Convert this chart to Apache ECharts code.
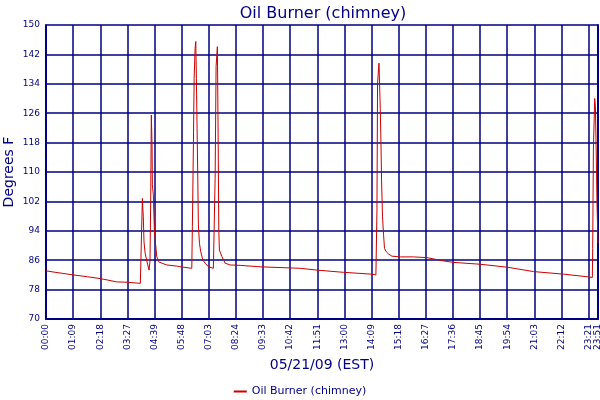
<!DOCTYPE html>
<html>
<head>
<meta charset="utf-8">
<script src="https://cdn.jsdelivr.net/npm/echarts/dist/echarts.min.js"></script>
<style>
html,body{margin:0;padding:0;background:#fff;}
#chart{width:600px;height:400px;}
</style>
</head>
<body>
<div id="chart"></div>
<script>
// Tick labels along the time axis (one every 23 samples), plus the final sample time
const timeLabels = ['00:00','01:09','02:18','03:27','04:39','05:48','07:03','08:24','09:33','10:42','11:51','13:00','14:09','15:18','16:27','17:36','18:45','19:54','21:03','22:12','23:21'];
const lastLabel = '23:51';
const lastSample = 468;
const yTickLabels = [70,78,86,94,102,110,118,126,134,142,150];

// Sample index (x) and temperature in °F (y)
const sampleIdx = [
  0, 6, 23, 35, 46, 60, 69, 80, 81.4,
  81.7, 82.5, 83.1, 84.0, 85.7, 87.4, 88.2, 88.8, 89.3, 89.9, 90.2, 91.0, 91.9, 93.1, 93.9, 95.3, 98.2, 102.4, 110.9, 116.2, 123.6,
  124.1, 125.0, 125.6, 126.4, 127.0, 127.5, 128.1, 128.7, 129.2, 130.1, 131.2, 132.9, 134.9, 137.7, 141.9, 143.1,
  143.4, 144.2, 145.3, 146.0, 146.5, 147.0, 149.1, 151.9, 156.1, 164.6, 181.6, 215.5, 229.7, 252.2, 276.3, 279.7,
  280.6, 281.1, 282.3, 282.8, 283.4, 284.0, 284.5, 285.3, 286.2, 287.0, 288.5, 290.4, 293.3, 300.4, 311.6, 323.0, 337.1, 345.6, 368.2, 390.9, 413.4, 438.9, 458.7, 463.2,
  463.5, 464.1, 465.2, 465.8, 466.3, 467.2, 468
];
const tempF = [
  83.1, 82.8, 82.0, 81.5, 81.0, 80.1, 80.0, 79.7, 79.5,
  102.8, 97.8, 91.0, 88.0, 85.5, 83.3, 86.0, 103.7, 125.5, 117.3, 106.5, 103.7, 94.0, 89.7, 87.0, 85.6, 85.2, 84.7, 84.4, 84.1, 83.8,
  95.1, 117.8, 135.5, 143.6, 145.5, 135.5, 121.9, 107.8, 95.6, 90.6, 88.3, 86.1, 85.2, 84.2, 83.8, 83.6,
  108.3, 138.7, 144.1, 117.3, 94.2, 88.8, 87.0, 85.2, 84.7, 84.6, 84.2, 83.8, 83.3, 82.7, 82.2, 82.0,
  99.7, 134.1, 139.6, 134.1, 127.3, 117.8, 107.8, 97.8, 92.9, 89.2, 88.3, 87.7, 87.1, 86.9, 86.9, 86.7, 85.8, 85.4, 84.9, 84.1, 82.9, 82.2, 81.5, 81.3,
  89.2, 116.0, 130.0, 127.8, 119.0, 100.5, 90.6
];

const NAVY = '#000080';
const FONT = 'DejaVu Sans';
const seriesData = sampleIdx.map((x, i) => [x, tempF[i]]);

const chart = echarts.init(document.getElementById('chart'), null, {renderer: 'canvas'});
chart.setOption({
  animation: false,
  backgroundColor: '#ffffff',
  title: {
    text: 'Oil Burner (chimney)',
    left: 318, top: 1,
    textAlign: 'center',
    textStyle: {color: NAVY, fontFamily: FONT, fontSize: 16, fontWeight: 'normal'}
  },
  legend: {
    top: 381, left: 'center',
    icon: 'rect', itemWidth: 13, itemHeight: 2,
    textStyle: {color: NAVY, fontFamily: FONT, fontSize: 11},
    data: ['Oil Burner (chimney)']
  },
  grid: {left: 46, right: 2, top: 25, bottom: 81, containLabel: false, outerBoundsMode: 'none'},
  xAxis: {
    type: 'value',
    min: 0, max: lastSample, interval: 23,
    name: '05/21/09 (EST)',
    nameLocation: 'middle', nameGap: 39, nameMoveOverlap: false,
    nameTextStyle: {color: NAVY, fontFamily: FONT, fontSize: 14},
    axisLine: {show: true, lineStyle: {color: NAVY, width: 2}},
    axisTick: {show: false},
    axisLabel: {
      rotate: 90, margin: 5, color: NAVY, fontFamily: FONT, fontSize: 9,
      showMinLabel: true, showMaxLabel: true, hideOverlap: false,
      formatter: v => (v >= lastSample ? lastLabel : timeLabels[Math.round(v / 23)])
    },
    splitLine: {show: true, lineStyle: {color: NAVY, width: 1.5}}
  },
  yAxis: [
    {
      type: 'value', position: 'left',
      min: 0, max: 80, interval: 8,
      name: 'Degrees F',
      nameLocation: 'middle', nameGap: 30, nameMoveOverlap: false,
      nameTextStyle: {color: NAVY, fontFamily: FONT, fontSize: 14},
      axisLine: {show: true, lineStyle: {color: NAVY, width: 2}},
      axisTick: {show: false},
      axisLabel: {
        margin: 6, color: NAVY, fontFamily: FONT, fontSize: 9,
        formatter: v => String(yTickLabels[Math.round(v / 8)])
      },
      splitLine: {show: true, lineStyle: {color: NAVY, width: 1.5}}
    },
    {
      type: 'value', position: 'right',
      min: 70, max: 150,
      axisLine: {show: true, lineStyle: {color: NAVY, width: 2}},
      axisTick: {show: false},
      axisLabel: {show: false},
      splitLine: {show: false}
    }
  ],
  series: [{
    name: 'Oil Burner (chimney)',
    type: 'line',
    yAxisIndex: 1,
    data: seriesData,
    showSymbol: false,
    symbol: 'none',
    itemStyle: {color: '#cc0000'},
    lineStyle: {color: '#cc0000', width: 1},
    z: 5
  }]
});
</script>
</body>
</html>
